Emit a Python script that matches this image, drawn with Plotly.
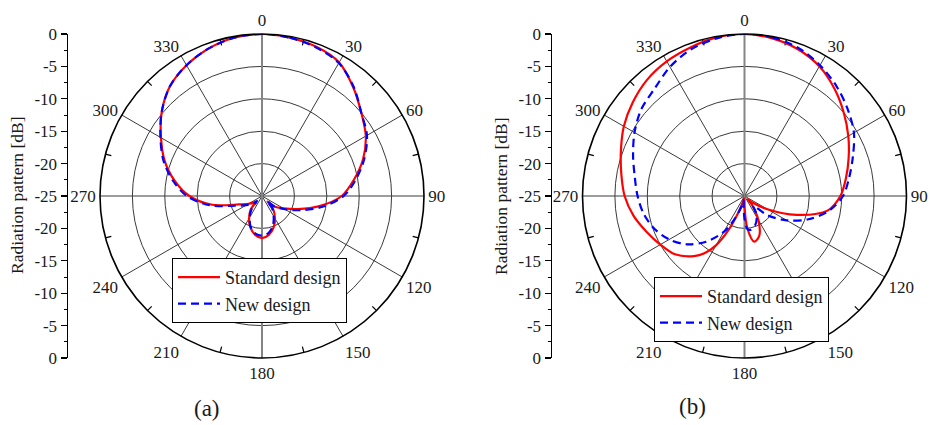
import plotly.graph_objects as go

# ---------------- data ----------------
angle_labels = [0, 30, 60, 90, 120, 150, 180, 210, 240, 270, 300, 330]
left_ticks = [-25, -20, -15, -10, -5, 0, 5, 10, 15, 20, 25]
left_ticktext = ["0", "-5", "-10", "-15", "-20", "-25", "-20", "-15", "-10", "-5", "0"]
ring_vals = [-20, -15, -10, -5]

# (a)
theta_a = [0, 10, 20, 30, 40, 50, 60, 70, 80, 90, 100, 110, 120, 130, 135, 140, 150, 160, 170,
           180, 190, 200, 210, 220, 225, 230, 240, 250, 260, 270, 280, 290, 300, 310, 320, 330,
           340, 350, 360]
std_a = [0, -0.2, -0.5, -1.2, -3.1, -5.0, -6.5, -8.4, -10.6, -12.7, -16.0, -19.1, -21.2, -22.4,
         -23.8, -22.3, -21.0, -19.8, -18.9, -18.5, -18.9, -19.8, -21.0, -22.3, -23.8, -23.4,
         -22.6, -21.2, -17.2, -13.8, -11.3, -9.0, -7.0, -4.8, -2.9, -1.7, -0.8, -0.2, 0]
new_a = [0, -0.2, -0.6, -1.3, -3.0, -5.0, -6.3, -8.2, -10.3, -12.4, -15.5, -18.6, -20.9, -22.5,
         -23.9, -22.6, -21.4, -20.1, -19.2, -18.9, -19.1, -19.9, -21.2, -22.6, -23.9, -23.2,
         -22.2, -20.6, -16.8, -13.4, -11.0, -8.8, -6.9, -4.8, -2.9, -1.7, -0.8, -0.2, 0]

# (b)
theta_b_std = [0, 10, 20, 30, 40, 50, 60, 70, 80, 90, 100, 110, 120, 130, 135, 140, 150, 160,
               168, 175, 180, 185, 190, 195, 200, 205, 210, 215, 220, 230, 240, 250, 260, 270,
               280, 290, 300, 310, 320, 330, 340, 350, 360]
std_b = [0, -0.3, -0.9, -1.9, -3.4, -5.0, -6.5, -7.9, -9.1, -10.2, -12.0, -16.5, -20.9, -23.5,
         -24.3, -23.2, -20.7, -18.4, -17.8, -20.0, -23.3, -24.5, -24.6, -24.0, -22.5, -19.3,
         -16.2, -14.2, -12.9, -11.0, -10.0, -8.9, -7.6, -6.5, -5.7, -4.7, -3.5, -2.5, -1.6,
         -1.0, -0.6, -0.15, 0]
theta_b_new = [0, 10, 20, 30, 40, 50, 60, 70, 80, 90, 100, 110, 120, 130, 138, 145, 150, 160,
               170, 175, 180, 185, 190, 195, 200, 205, 210, 220, 230, 240, 250, 260, 270, 280,
               290, 300, 310, 320, 330, 340, 350, 360]
new_b = [0, -0.15, -0.7, -1.7, -2.9, -4.2, -5.5, -7.2, -8.6, -9.8, -11.8, -14.5, -17.5, -20.4,
         -23.0, -22.0, -21.2, -20.2, -19.7, -19.9, -21.5, -23.5, -24.3, -23.5, -22.3, -20.5,
         -18.6, -15.8, -13.4, -11.6, -10.2, -9.2, -8.5, -7.8, -6.7, -5.4, -4.2, -3.4, -2.0,
         -0.9, -0.3, 0]

# ---------------- layout constants ----------------
W, H = 933, 425
R_MIN, R_MAX = -25, 0
FONT = "Liberation Serif"
TXT = "#1a1a1a"
GRID = "#3a3a3a"
R_PX = 162
TICK_PX = 6

panels = [
    dict(cx=262, cy=196, axis_x=68, legend_xy=(172, 258), cap=(207, 408), cap_text="(a)",
         traces=[(theta_a, std_a), (theta_a, new_a)]),
    dict(cx=744.5, cy=196, axis_x=552, legend_xy=(654, 277), cap=(692, 406), cap_text="(b)",
         traces=[(theta_b_std, std_b), (theta_b_new, new_b)]),
]

fig = go.Figure()
layout_extra = {}
annotations = []

tick_len_db = TICK_PX / R_PX * (R_MAX - R_MIN)
minor_theta, minor_r = [], []
for a in range(15, 360, 30):
    minor_theta += [a, a, None]
    minor_r += [R_MAX - tick_len_db, R_MAX, None]

for i, p in enumerate(panels):
    n = "" if i == 0 else str(i + 1)
    polar_name = "polar" + n
    leg_name = "legend" + n
    x0, x1 = (p["cx"] - R_PX) / W, (p["cx"] + R_PX) / W
    y0, y1 = 1 - (p["cy"] + R_PX) / H, 1 - (p["cy"] - R_PX) / H

    layout_extra[polar_name] = dict(
        domain=dict(x=[x0, x1], y=[y0, y1]),
        bgcolor="white",
        angularaxis=dict(
            rotation=90, direction="clockwise",
            tickvals=angle_labels, ticktext=[str(v) for v in angle_labels],
            showgrid=True, gridcolor=GRID, gridwidth=1,
            showline=True, linecolor="black", linewidth=1.6,
            ticks="", tickfont=dict(family=FONT, size=17, color=TXT),
        ),
        radialaxis=dict(
            range=[R_MIN, R_MAX], tickvals=ring_vals, showticklabels=False,
            showline=False, ticks="", showgrid=True, gridcolor=GRID, gridwidth=1,
        ),
    )

    # vertical 0-180 spoke (lighter, like the radial axis line)
    fig.add_trace(go.Scatterpolar(
        theta=[0, 0, 180], r=[R_MAX, R_MIN, R_MAX], mode="lines",
        line=dict(color="#858585", width=2), subplot=polar_name,
        showlegend=False, hoverinfo="skip"))
    # minor angular ticks
    fig.add_trace(go.Scatterpolar(
        theta=minor_theta, r=minor_r, mode="lines",
        line=dict(color="black", width=1.2), subplot=polar_name,
        showlegend=False, hoverinfo="skip", connectgaps=False))

    (th_s, r_s), (th_n, r_n) = p["traces"]
    fig.add_trace(go.Scatterpolar(
        theta=th_s, r=r_s, mode="lines", name="Standard design",
        line=dict(color="#ff0000", width=2.2, shape="spline", smoothing=0.9),
        subplot=polar_name, legend=leg_name))
    fig.add_trace(go.Scatterpolar(
        theta=th_n, r=r_n, mode="lines", name="New design",
        line=dict(color="#0000ff", width=2.2, dash="8px,5px", shape="spline", smoothing=0.9),
        subplot=polar_name, legend=leg_name))

    lx, ly = p["legend_xy"]
    layout_extra[leg_name] = dict(
        x=lx / W, y=1 - ly / H, xanchor="left", yanchor="top",
        bgcolor="white", bordercolor="black", borderwidth=1,
        font=dict(family=FONT, size=18, color=TXT),
        itemwidth=42, tracegroupgap=0, traceorder="normal",
    )

    # left linear dB axis
    xa = "xaxis" + n
    ya = "yaxis" + n
    layout_extra[xa] = dict(domain=[p["axis_x"] / W, (p["axis_x"] + 10) / W], visible=False,
                            range=[0, 1], fixedrange=True)
    layout_extra[ya] = dict(
        domain=[y0, y1], anchor="x" + n, range=[-25, 25],
        tickvals=left_ticks, ticktext=left_ticktext,
        showline=True, linecolor="black", linewidth=1.5,
        ticks="outside", ticklen=6, tickcolor="black", tickwidth=1.2,
        minor=dict(dtick=2.5, tick0=0, ticks="outside", ticklen=3, tickcolor="black",
                   tickwidth=1, showgrid=False),
        showgrid=False, zeroline=False, fixedrange=True, automargin=False,
        tickfont=dict(family=FONT, size=17, color=TXT),
    )
    fig.add_trace(go.Scatter(x=[None], y=[None], xaxis="x" + n, yaxis="y" + n,
                             showlegend=False, hoverinfo="skip"))

    annotations.append(dict(
        x=(p["axis_x"] - 51) / W, y=1 - p["cy"] / H, xref="paper", yref="paper",
        text="Radiation pattern [dB]", textangle=-90, showarrow=False,
        font=dict(family=FONT, size=17.5, color=TXT), xanchor="center", yanchor="middle"))
    annotations.append(dict(
        x=p["cap"][0] / W, y=1 - p["cap"][1] / H, xref="paper", yref="paper",
        text=p["cap_text"], showarrow=False,
        font=dict(family=FONT, size=23, color=TXT), xanchor="center", yanchor="middle"))

fig.update_layout(
    width=W, height=H, autosize=False,
    margin=dict(l=0, r=0, t=0, b=0, autoexpand=False),
    paper_bgcolor="white", plot_bgcolor="white",
    annotations=annotations,
    **layout_extra,
)

fig.write_html(
    "out.html",
    config=dict(displayModeBar=False, staticPlot=True),
    post_script="document.body.style.margin='0';document.body.style.padding='0';"
                "document.body.style.overflow='hidden';",
)
